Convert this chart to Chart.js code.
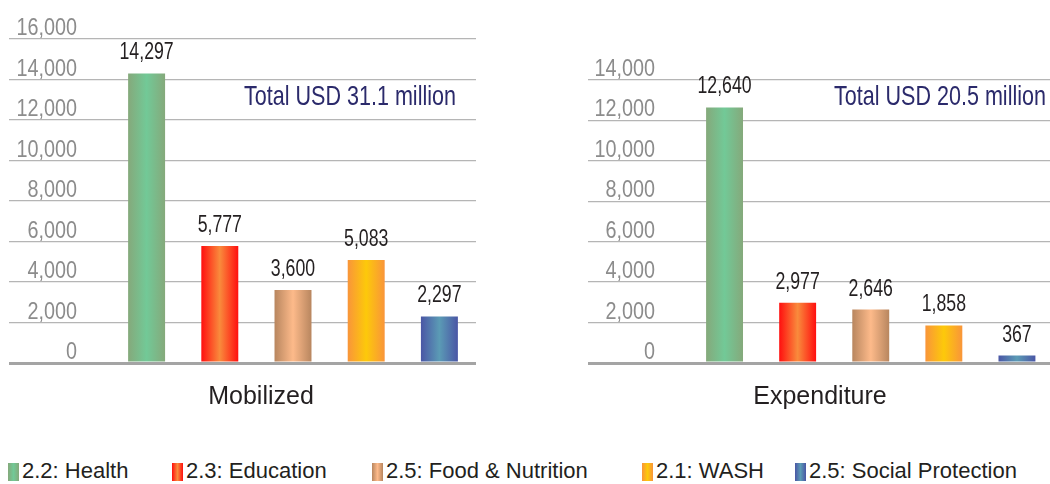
<!DOCTYPE html>
<html>
<head>
<meta charset="utf-8">
<script src="https://cdn.jsdelivr.net/npm/chart.js@4.4.1/dist/chart.umd.min.js"></script>
<style>
  html, body { margin: 0; padding: 0; background: #fff; }
  body { position: relative; width: 1050px; height: 484px; overflow: hidden; }
  canvas { position: absolute; top: 0; }
  #left { left: 0; }
  #right { left: 580px; }
  .item { position: absolute; top: 458px; font: 22px 'Liberation Sans', Arial, sans-serif; color: #231f20; white-space: nowrap; line-height: 26px; }
  .sw { display: inline-block; width: 11px; height: 18px; vertical-align: -3px; margin-right: 3px; }
</style>
</head>
<body>
<canvas id="left" width="522" height="412"></canvas>
<canvas id="right" width="480" height="412"></canvas>
<div id="legend"></div>
<script>
// categories and values
const categories = ['2.2: Health', '2.3: Education', '2.5: Food & Nutrition', '2.1: WASH', '2.5: Social Protection'];
const mobilized = [14297, 5777, 3600, 5083, 2297];
const expenditure = [12640, 2977, 2646, 1858, 367];
const mobilizedMax = 16000;
const expenditureMax = 14000;
const tickStep = 2000;

// bar gradient colours: edge / middle
const edgeColors = ['#85a97b', '#ff0f0f', '#b8865f', '#f9953a', '#4a56a5'];
const midColors = ['#72c997', '#f98b3c', '#fdba8a', '#fdc90a', '#5b9bb5'];
const legendLefts = [8, 172, 372, 642, 795];

const FONT = "'Liberation Sans', Arial, sans-serif";
const BARPCT = 0.505;

function barGradient(c) {
  const chart = c.chart;
  const i = c.dataIndex;
  const x = chart.scales.x;
  if (!x || !chart.chartArea) return edgeColors[i];
  const cx = x.getPixelForValue(i);
  const hw = x.width / categories.length * BARPCT / 2;
  const g = chart.ctx.createLinearGradient(cx - hw, 0, cx + hw, 0);
  g.addColorStop(0, edgeColors[i]);
  g.addColorStop(0.5, midColors[i]);
  g.addColorStop(1, edgeColors[i]);
  return g;
}

// condensed text: the original uses a narrow face, squeeze a regular one
function narrowText(ctx, text, x, y, squeeze) {
  ctx.save();
  ctx.translate(x, y);
  ctx.scale(squeeze, 1);
  ctx.fillText(text, 0, 0);
  ctx.restore();
}

const valueLabels = {
  id: 'valueLabels',
  afterDatasetsDraw(chart, args, opts) {
    const ctx = chart.ctx;
    const meta = chart.getDatasetMeta(0);
    const data = chart.data.datasets[0].data;
    const y = chart.scales.y;
    ctx.save();
    // y tick labels, sitting just above their grid line
    ctx.font = '23px ' + FONT;
    ctx.fillStyle = '#8c8c8c';
    ctx.textAlign = 'right';
    ctx.textBaseline = 'alphabetic';
    y.ticks.forEach(t => {
      narrowText(ctx, t.value.toLocaleString('en-US'), chart.chartArea.left - 33, y.getPixelForValue(t.value) - 4, 0.86);
    });
    // bar values
    ctx.font = '23px ' + FONT;
    ctx.fillStyle = '#231f20';
    ctx.textAlign = 'center';
    meta.data.forEach((bar, i) => {
      narrowText(ctx, data[i].toLocaleString('en-US'), bar.x, bar.y - 14, 0.77);
    });
    if (opts.total) {
      ctx.font = '28px ' + FONT;
      ctx.fillStyle = '#2b2a6b';
      ctx.textAlign = 'right';
      ctx.textBaseline = 'middle';
      narrowText(ctx, opts.total, chart.chartArea.right + opts.totalDx, opts.totalY, 0.77);
    }
    ctx.restore();
  }
};

function makeChart(id, values, max, title, total, cfg) {
  return new Chart(document.getElementById(id), {
    type: 'bar',
    data: {
      labels: categories,
      datasets: [{
        data: values,
        backgroundColor: barGradient,
        borderWidth: 0,
        categoryPercentage: 1,
        barPercentage: BARPCT
      }]
    },
    options: {
      responsive: false,
      animation: false,
      layout: { padding: { top: cfg.top, right: cfg.right, left: cfg.left, bottom: 0 } },
      scales: {
        x: { display: false },
        y: {
          min: 0,
          max: max,
          afterFit: s => { s.width = cfg.axisWidth; },
          border: { display: false },
          grid: {
            color: c => c.tick && c.tick.value === 0 ? '#a4a4a4' : '#b5b5b5',
            lineWidth: c => c.tick && c.tick.value === 0 ? 3 : 1.3,
            tickLength: cfg.tickLength
          },
          ticks: { stepSize: tickStep, display: false }
        }
      },
      plugins: {
        legend: { display: false },
        tooltip: { enabled: false },
        title: {
          display: true,
          position: 'bottom',
          text: title,
          color: '#231f20',
          font: { family: FONT, size: 25, weight: 'normal' },
          padding: { top: 19, bottom: 0 }
        },
        valueLabels: { total: total, totalDx: cfg.totalDx, totalY: 97 }
      }
    },
    plugins: [valueLabels]
  });
}

makeChart('left', mobilized, mobilizedMax, 'Mobilized', 'Total USD 31.1 million',
  { top: 39, right: 46, left: 46, axisWidth: 64, tickLength: 101, totalDx: -20 });
makeChart('right', expenditure, expenditureMax, 'Expenditure', 'Total USD 20.5 million',
  { top: 80, right: 6.5, left: 6.5, axisWidth: 101.5, tickLength: 100, totalDx: -7.5 });

// shared legend
const legend = document.getElementById('legend');
categories.forEach((name, i) => {
  const item = document.createElement('div');
  item.className = 'item';
  item.style.left = legendLefts[i] + 'px';
  const sw = document.createElement('span');
  sw.className = 'sw';
  sw.style.background = 'linear-gradient(to right, ' + edgeColors[i] + ', ' + midColors[i] + ', ' + edgeColors[i] + ')';
  item.appendChild(sw);
  item.appendChild(document.createTextNode(name));
  legend.appendChild(item);
});
</script>
</body>
</html>
